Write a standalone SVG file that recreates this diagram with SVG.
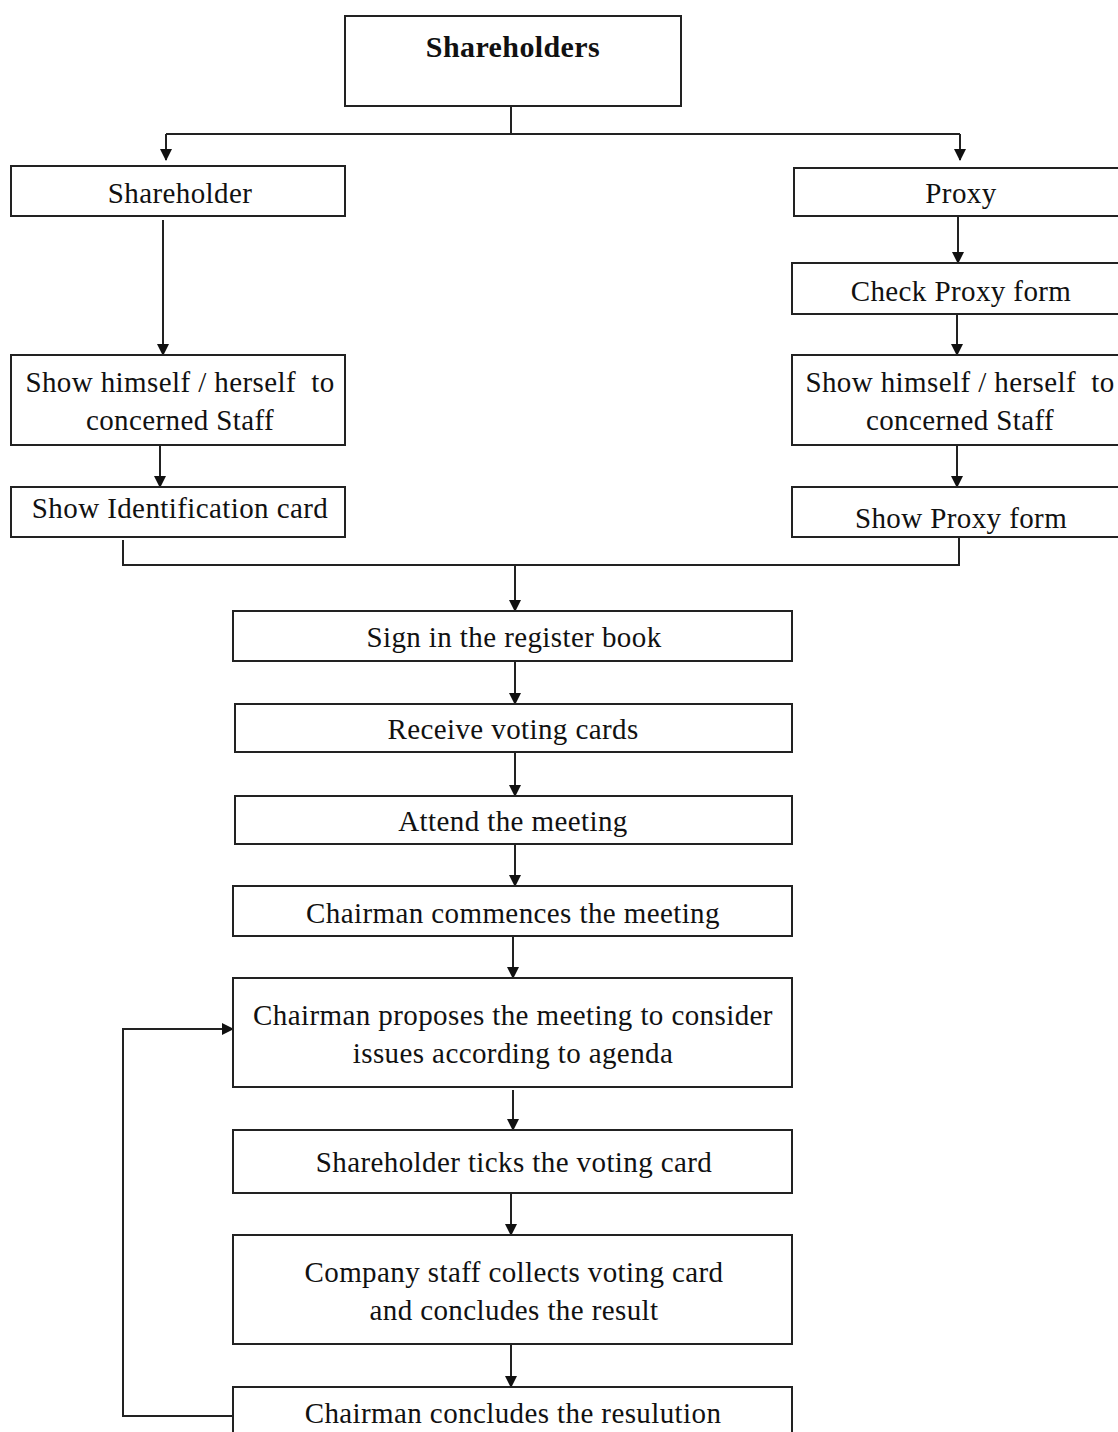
<svg xmlns="http://www.w3.org/2000/svg" width="1118" height="1432" viewBox="0 0 1118 1432">
<style>
.box{fill:#fff;stroke:#222;stroke-width:2}
.t{font-family:"Liberation Serif","Times New Roman",serif;font-size:29px;letter-spacing:0.4px;fill:#111;text-anchor:middle}
.b{font-weight:bold;font-size:30px}
.c{fill:none;stroke:#222;stroke-width:2}
</style>
<defs>
<marker id="ah" markerWidth="12" markerHeight="13" refX="11" refY="6.5" orient="auto" markerUnits="userSpaceOnUse">
<path d="M0,0.5 L12,6.5 L0,12.5 Z" fill="#111"/>
</marker>
</defs>
<rect width="1118" height="1432" fill="#fff"/>
<g id="connectors">
<path class="c" d="M511,106 V134 M166,134 H960"/>
<path class="c" d="M166,134 V160" marker-end="url(#ah)"/>
<path class="c" d="M960,134 V160" marker-end="url(#ah)"/>
<path class="c" d="M163,220 V355" marker-end="url(#ah)"/>
<path class="c" d="M160,445 V487" marker-end="url(#ah)"/>
<path class="c" d="M958,216 V263" marker-end="url(#ah)"/>
<path class="c" d="M957,314 V355" marker-end="url(#ah)"/>
<path class="c" d="M957,445 V487" marker-end="url(#ah)"/>
<path class="c" d="M123,540 V565 H959 V537"/>
<path class="c" d="M515,565 V611" marker-end="url(#ah)"/>
<path class="c" d="M515,661 V704" marker-end="url(#ah)"/>
<path class="c" d="M515,752 V796" marker-end="url(#ah)"/>
<path class="c" d="M515,844 V886" marker-end="url(#ah)"/>
<path class="c" d="M513,936 V978" marker-end="url(#ah)"/>
<path class="c" d="M513,1090 V1130" marker-end="url(#ah)"/>
<path class="c" d="M511,1193 V1235" marker-end="url(#ah)"/>
<path class="c" d="M511,1344 V1387" marker-end="url(#ah)"/>
<path class="c" d="M233,1416 H123 V1029 H233" marker-end="url(#ah)"/>
</g>
<g id="n-shareholders"><rect class="box" x="345" y="16" width="336" height="90"/><text class="t b" x="513" y="57">Shareholders</text></g>
<g id="n-shareholder"><rect class="box" x="11" y="166" width="334" height="50"/><text class="t" x="180" y="203">Shareholder</text></g>
<g id="n-proxy"><rect class="box" x="794" y="168" width="330" height="48"/><text class="t" x="961" y="203">Proxy</text></g>
<g id="n-check-proxy"><rect class="box" x="792" y="263" width="332" height="51"/><text class="t" x="961" y="301">Check Proxy form</text></g>
<g id="n-show-left"><rect class="box" x="11" y="355" width="334" height="90"/><text class="t" x="180" y="392">Show himself / herself&#160; to</text><text class="t" x="180" y="430">concerned Staff</text></g>
<g id="n-show-right"><rect class="box" x="792" y="355" width="332" height="90"/><text class="t" x="960" y="392">Show himself / herself&#160; to</text><text class="t" x="960" y="430">concerned Staff</text></g>
<g id="n-id-card"><rect class="box" x="11" y="487" width="334" height="50"/><text class="t" x="180" y="518">Show Identification card</text></g>
<g id="n-show-proxy"><rect class="box" x="792" y="487" width="332" height="50"/><text class="t" x="961" y="528">Show Proxy form</text></g>
<g id="n-sign"><rect class="box" x="233" y="611" width="559" height="50"/><text class="t" x="514" y="647">Sign in the register book</text></g>
<g id="n-receive"><rect class="box" x="235" y="704" width="557" height="48"/><text class="t" x="513" y="739">Receive voting cards</text></g>
<g id="n-attend"><rect class="box" x="235" y="796" width="557" height="48"/><text class="t" x="513" y="831">Attend the meeting</text></g>
<g id="n-commence"><rect class="box" x="233" y="886" width="559" height="50"/><text class="t" x="513" y="923">Chairman commences the meeting</text></g>
<g id="n-propose"><rect class="box" x="233" y="978" width="559" height="109"/><text class="t" x="513" y="1025">Chairman proposes the meeting to consider</text><text class="t" x="513" y="1063">issues according to agenda</text></g>
<g id="n-ticks"><rect class="box" x="233" y="1130" width="559" height="63"/><text class="t" x="514" y="1172">Shareholder ticks the voting card</text></g>
<g id="n-collect"><rect class="box" x="233" y="1235" width="559" height="109"/><text class="t" x="514" y="1282">Company staff collects voting card</text><text class="t" x="514" y="1320">and concludes the result</text></g>
<g id="n-conclude"><rect class="box" x="233" y="1387" width="559" height="60"/><text class="t" x="513" y="1423">Chairman concludes the resulution</text></g>
</svg>
